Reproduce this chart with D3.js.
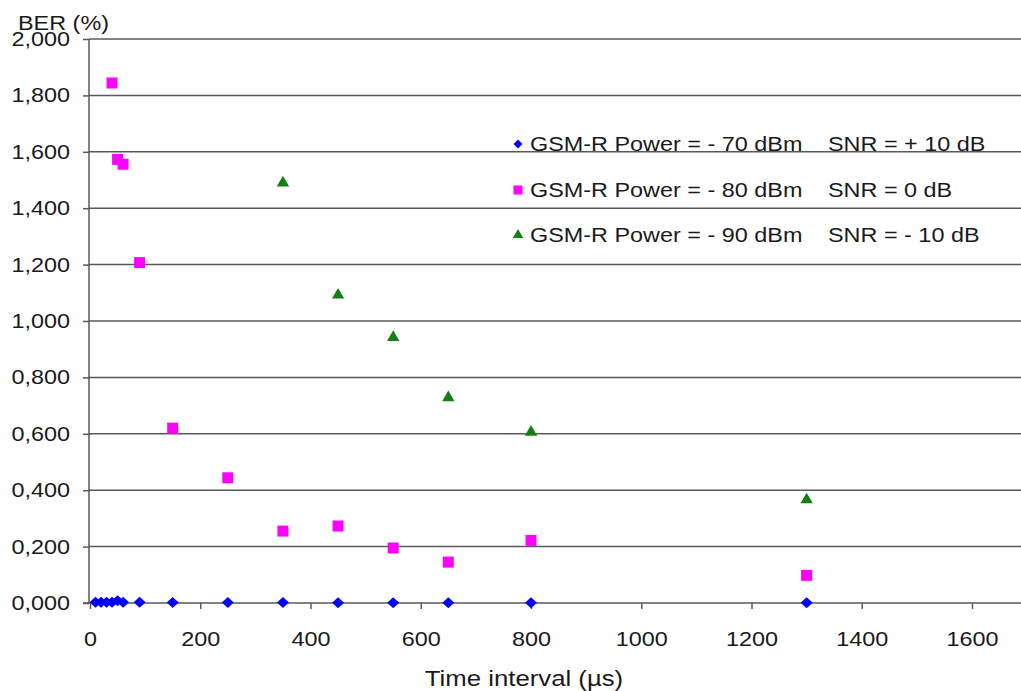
<!DOCTYPE html>
<html><head><meta charset="utf-8">
<script src="https://cdn.jsdelivr.net/npm/d3@7"></script>
<style>html,body{margin:0;padding:0;background:#fff;overflow:hidden}</style>
</head><body>
<script>
const xTicks = [0,200,400,600,800,1000,1200,1400,1600];
const yTicks = [0,0.2,0.4,0.6,0.8,1.0,1.2,1.4,1.6,1.8,2.0];
const seriesNames = [
  ["GSM-R Power = - 70 dBm","SNR = + 10 dB"],
  ["GSM-R Power = - 80 dBm","SNR = 0 dB"],
  ["GSM-R Power = - 90 dBm","SNR = - 10 dB"]
];
const s70x = [10,20,30,40,50,60,90,150,250,350,450,550,650,800,1300];
const s70y = [0.003,0.003,0.003,0.003,0.008,0.003,0.003,0.002,0.002,0.002,0.001,0.001,0.001,0.001,0.001];
const s80x = [40,50,60,90,150,250,350,450,550,650,800,1300];
const s80y = [1.844,1.573,1.556,1.207,0.620,0.444,0.255,0.273,0.195,0.145,0.222,0.098];
const s90x = [350,450,550,650,800,1300];
const s90y = [1.490,1.092,0.942,0.728,0.606,0.366];

const W=1021,H=691;
const svg=d3.select("body").append("svg").attr("width",W).attr("height",H);
const x=d3.scaleLinear().domain([0,1600]).range([90,972]);
const y=d3.scaleLinear().domain([0,2]).range([603,39]);
const font="Liberation Sans, Arial, sans-serif";
const grid="#595959";
const txt="#1a1a1a";

// gridlines
svg.append("g").selectAll("line").data(yTicks.filter(d=>d>0)).join("line")
  .attr("x1",89).attr("x2",W).attr("y1",d=>y(d)).attr("y2",d=>y(d))
  .attr("stroke",grid).attr("stroke-width",1.5);

// y axis
const yAxis=d3.axisLeft(y).tickValues(yTicks).tickSize(6).tickPadding(13)
  .tickFormat(d=>d3.format(".3f")(d).replace(".",","));
const gy=svg.append("g").attr("transform","translate(89,0)").call(yAxis);
gy.select(".domain").attr("stroke",grid).attr("stroke-width",1.5).attr("d","M0,39V603");
gy.selectAll(".tick line").attr("stroke",grid).attr("stroke-width",1.5);
gy.selectAll("text").attr("font-family",font).attr("font-size",20).attr("fill",txt);

// x axis
const xAxis=d3.axisBottom(x).tickValues(xTicks).tickSize(6).tickPadding(23).tickFormat(d3.format("d"));
const gx=svg.append("g").attr("transform","translate(0,603)").call(xAxis);
gx.select(".domain").attr("stroke",grid).attr("stroke-width",1.5).attr("d","M83,0H"+W);
gx.selectAll(".tick line").attr("stroke",grid).attr("stroke-width",1.5);
gx.selectAll("text").attr("font-family",font).attr("font-size",20).attr("fill",txt);

// titles
svg.append("text").attr("x",18).attr("y",30).text("BER (%)")
  .attr("font-family",font).attr("font-size",20).attr("fill",txt);
svg.append("text").attr("x",524).attr("y",686).attr("text-anchor","middle").text("Time interval (µs)")
  .attr("font-family",font).attr("font-size",22).attr("fill",txt);

const blue="#0000ff",mag="#ff00ff",green="#138013";
const diamondPath=(w,h)=>`M0,${-h}L${w},0L0,${h}L${-w},0Z`;
const square=d3.symbol().type(d3.symbolSquare).size(121)();
const tri=d3.symbol().type(d3.symbolTriangle).size(66)();

svg.append("g").selectAll("path").data(s70x.map((v,i)=>[v,s70y[i]])).join("path")
  .attr("d",diamondPath(6,5.5)).attr("fill",blue).attr("transform",d=>`translate(${x(d[0])},${y(d[1])})`);
svg.append("g").selectAll("path").data(s80x.map((v,i)=>[v,s80y[i]])).join("path")
  .attr("d",square).attr("fill",mag).attr("transform",d=>`translate(${x(d[0])},${y(d[1])})`);
svg.append("g").selectAll("path").data(s90x.map((v,i)=>[v,s90y[i]])).join("path")
  .attr("d",tri).attr("fill",green).attr("transform",d=>`translate(${x(d[0])},${y(d[1])})`);

// legend
const lg=svg.append("g");
const marks=[{d:diamondPath(4.5,4.5),c:blue},
             {d:d3.symbol().type(d3.symbolSquare).size(81)(),c:mag},
             {d:d3.symbol().type(d3.symbolTriangle).size(48)(),c:green}];
const rowsY=[144,190,235];
seriesNames.forEach((n,i)=>{
  lg.append("path").attr("d",marks[i].d).attr("fill",marks[i].c)
    .attr("transform",`translate(518,${rowsY[i]})`);
  lg.append("text").attr("x",530).attr("y",rowsY[i]+7).text(n[0])
    .attr("font-family",font).attr("font-size",20).attr("fill",txt);
  lg.append("text").attr("x",828).attr("y",rowsY[i]+7).text(n[1])
    .attr("font-family",font).attr("font-size",20).attr("fill",txt);
});

// stretch text horizontally like the reference rendering
svg.selectAll("text").each(function(){
  const l=this.getComputedTextLength();
  d3.select(this).attr("textLength",l*1.17).attr("lengthAdjust","spacingAndGlyphs");
});
</script>
</body></html>
